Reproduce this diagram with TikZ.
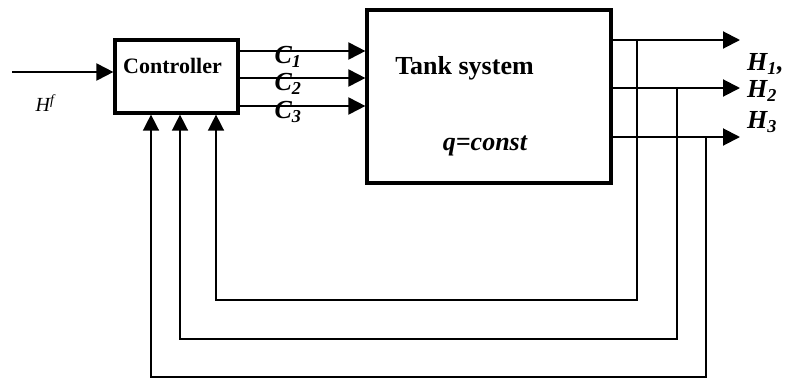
\documentclass[tikz,border=0pt]{standalone}
\usepackage{fontspec}
\setmainfont{Liberation Serif}
\usepackage{tikz}
\usetikzlibrary{arrows.meta, positioning, calc}
\tikzset{
  blk/.style={draw=black, line width=3.2pt, fill=white, inner sep=0pt},
  sig/.style={-{Triangle[length=17pt, width=17pt]}, line width=2pt},
  fb/.style={-{Triangle[length=16pt, width=16pt]}, line width=1.5pt},
  bigtxt/.style={font=\fontsize{26}{28}\selectfont\bfseries\itshape, inner sep=0pt},
}
\begin{document}
\begin{tikzpicture}[x=1pt, y=-1pt,
  hd/.style={font=\fontsize{26}{28}\selectfont\bfseries, inner sep=0pt}]
  \useasboundingbox (0,0) rectangle (785,378);
  % blocks
  \node[blk, minimum width=123pt, minimum height=73pt] (ctrl) at (176.5,76.5) {};
  \node[blk, minimum width=244pt, minimum height=173pt] (tank) at (489,96.5) {};
  \node[font=\fontsize{22}{24}\selectfont\bfseries, inner sep=0pt] (ctrltxt) at (172.5,66) {Controller};
  \node[hd] (tanktxt) at (464.5,68) {Tank system};
  \node[bigtxt] (qtxt) at (485,146) {q=const};
  % reference input
  \coordinate (hin) at (12,72);
  \draw[sig] (hin) -- (ctrl.west |- hin);
  \node[font=\fontsize{20}{22}\selectfont\itshape, inner sep=0pt] (href) at (45,103) {H\textsuperscript{f}};
  % control signals
  \foreach \yy/\lab [count=\k] in {51/1, 78/2, 106/3}
    { \draw[sig] (ctrl.east |- 0,\yy) -- (tank.west |- 0,\yy);
      \node[bigtxt] (c\k) at (288,\yy+6) {C\textsubscript{\lab}}; }
  % outputs and feedback
  \foreach \yy/\xd/\yb/\xu [count=\k] in {40/637/300/216, 88/677/339/180, 137/706/377/151}
    { \draw[sig] (tank.east |- 0,\yy) -- (740,\yy);
      \coordinate (tap\k) at (\xd,\yy);
      \draw[fb] (tap\k) -- (\xd,\yb) -- (\xu,\yb) -- (ctrl.south -| \xu,0); }
  \node[bigtxt, anchor=west] (h1) at (747,64) {H\textsubscript{1},};
  \node[bigtxt, anchor=west] (h2) at (747,91) {H\textsubscript{2}};
  \node[bigtxt, anchor=west] (h3) at (747,122) {H\textsubscript{3}};
\end{tikzpicture}
\end{document}
